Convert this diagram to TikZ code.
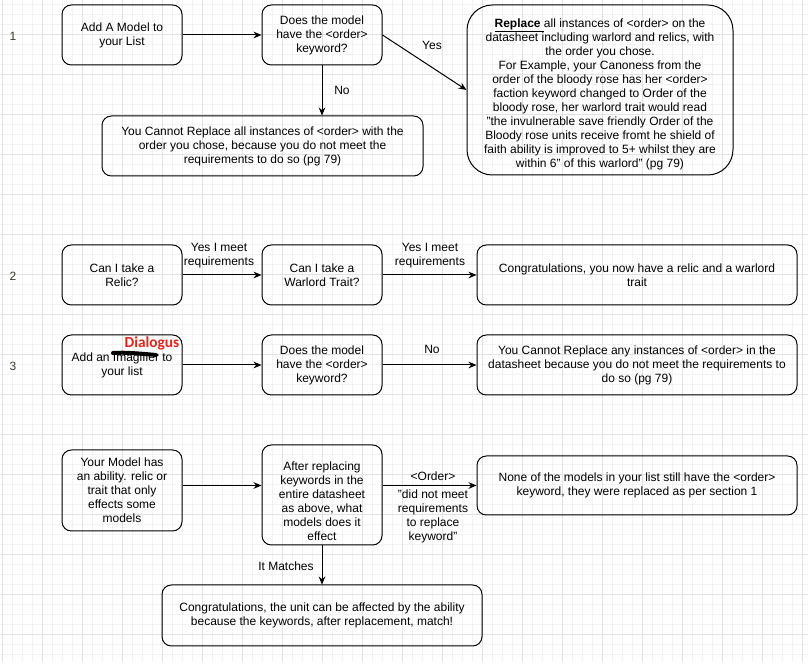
\documentclass[tikz,border=0pt]{standalone}
\usepackage{fontspec}
\setmainfont{Liberation Sans}
\newfontfamily\notefont{Carlito}
\usetikzlibrary{arrows.meta}

\definecolor{gridminor}{HTML}{F3F3F3}
\definecolor{gridmajor}{HTML}{E2E2E2}
\definecolor{notered}{HTML}{E3241B}
\definecolor{rowgray}{HTML}{3A3A2A}

\begin{document}
\begin{tikzpicture}[x=0.75pt,y=-0.75pt,
   box/.style={draw, rounded corners=7pt, line width=0.75pt, align=center,
     inner sep=2pt, font=\fontsize{9}{10.5}\selectfont},
   flow/.style={-{Stealth[length=6pt,width=5pt]}, line width=0.75pt},
   lbl/.style={align=center, inner sep=0pt, font=\fontsize{9}{10.5}\selectfont},
   rowno/.style={text=rowgray, font=\fontsize{9}{10.5}\selectfont}]

   \useasboundingbox (0,0) rectangle (808,666);

   % grid paper
   \foreach \gx in {2,12,...,802}
     \draw[gridminor, line width=0.75pt] (\gx,0) -- (\gx,662);
   \foreach \gy in {5,15,...,655}
     \draw[gridminor, line width=0.75pt] (0,\gy) -- (808,\gy);
   \foreach \gx in {2,42,...,802}
     \draw[gridmajor, line width=0.75pt] (\gx,0) -- (\gx,662);
   \foreach \gy in {35,75,...,635}
     \draw[gridmajor, line width=0.75pt] (0,\gy) -- (808,\gy);

   % section 1
   \node[rowno] (r1) at (13,36) {1};
   \node[box, minimum width=90pt, minimum height=45pt] (add) at (122,35)
     {Add A Model to\\your List};
   \node[box, minimum width=90pt, minimum height=45pt] (has) at (322,35)
     {Does the model\\have the <order>\\keyword?};
   \node[box, rounded corners=19pt, minimum width=199.5pt, minimum height=127.5pt] (repl) at (600,90)
     {\rule{0pt}{12.8pt}\underline{\textbf{Replace}\ }all instances of <order> on the\\
      datasheet including warlord and relics, with\\
      the order you chose.\\
      For Example, your Canoness from the\\
      order of the bloody rose has her <order>\\
      faction keyword changed to Order of the\\
      bloody rose, her warlord trait would read\\
      "the invulnerable save friendly Order of the\\
      Bloody rose units receive fromt he shield of\\
      faith ability is improved to 5+ whilst they are\\
      within 6" of this warlord" (pg 79)};
   \node[box, minimum width=240.75pt, minimum height=45pt] (cannot) at (262.5,146)
     {You Cannot Replace all instances of <order> with the\\
      order you chose, because you do not meet the\\
      requirements to do so (pg 79)};

   \draw[flow] (add) -- (has);
   \draw[flow] (has.east) -- (repl.west) node[lbl, midway, shift={(7.5,-17.5)}] (yes) {Yes};
   \draw[flow] (has) -- (cannot.north -| has) node[lbl, midway, shift={(20,0)}] (no) {No};

   % section 2
   \node[rowno] (r2) at (13,276) {2};
   \node[box, minimum width=90pt, minimum height=45pt] (relic) at (122,275)
     {Can I take a\\Relic?};
   \node[box, minimum width=90pt, minimum height=45pt] (trait) at (322,275)
     {Can I take a\\Warlord Trait?};
   \node[box, minimum width=240pt, minimum height=45pt] (congrats) at (637,275)
     {Congratulations, you now have a relic and a warlord\\trait};

   \draw[flow] (relic) -- (trait) node[lbl, midway, shift={(-3,-19.5)}] (meet1) {Yes I meet\\requirements};
   \draw[flow] (trait) -- (congrats) node[lbl, midway, shift={(0.5,-19.5)}] (meet2) {Yes I meet\\requirements};

   % section 3
   \node[rowno] (r3) at (13,366) {3};
   \node[box, minimum width=90pt, minimum height=45pt] (imag) at (122,365)
     {Add an Imagifier to\\your list};
   \draw[line width=3pt, line cap=round] (113,353) .. controls (125,352) and (145,354) .. (156,355);
   \node[text=notered, inner sep=0pt, font=\notefont\bfseries\fontsize{11.5}{13}\selectfont] (dialogus) at (152,343) {Dialogus};
   \node[box, minimum width=90pt, minimum height=45pt] (hasb) at (322,365)
     {Does the model\\have the <order>\\keyword?};
   \node[box, minimum width=240pt, minimum height=45pt] (cannotb) at (637,365)
     {You Cannot Replace any instances of <order> in the\\
      datasheet because you do not meet the requirements to\\
      do so (pg 79)};

   \draw[flow] (imag) -- (hasb);
   \draw[flow] (hasb) -- (cannotb) node[lbl, midway, shift={(2.5,-16)}] (nob) {No};

   % section 4
   \node[box, minimum width=90pt, minimum height=60.75pt] (ability) at (122,490.5)
     {Your Model has\\an ability. relic or\\trait that only\\effects some\\models};
   \node[box, minimum width=90pt, minimum height=75pt] (after) at (322,495)
     {\rule{0pt}{15.8pt}After replacing\\keywords in the\\entire datasheet\\as above, what\\models does it\\effect};
   \node[box, minimum width=240pt, minimum height=44.25pt] (none) at (637,485.5)
     {None of the models in your list still have the <order>\\
      keyword, they were replaced as per section 1};
   \node[box, minimum width=240pt, minimum height=45.75pt] (match) at (322,615.5)
     {Congratulations, the unit can be affected by the ability\\
      because the keywords, after replacement, match!};

   \draw[flow] (ability.east |- none.west) -- (after.west |- none.west);
   \draw[flow] (after.east |- none.west) -- (none.west)
     node[lbl, midway, shift={(3.5,-9.5)}] (order) {<Order>}
     node[lbl, midway, shift={(3.5,30.5)}] (didnot) {"did not meet\\requirements\\to replace\\keyword"};
   \draw[flow] (after) -- (match) node[lbl, midway, shift={(-36,1)}] (matches) {It Matches};
\end{tikzpicture}
\end{document}
